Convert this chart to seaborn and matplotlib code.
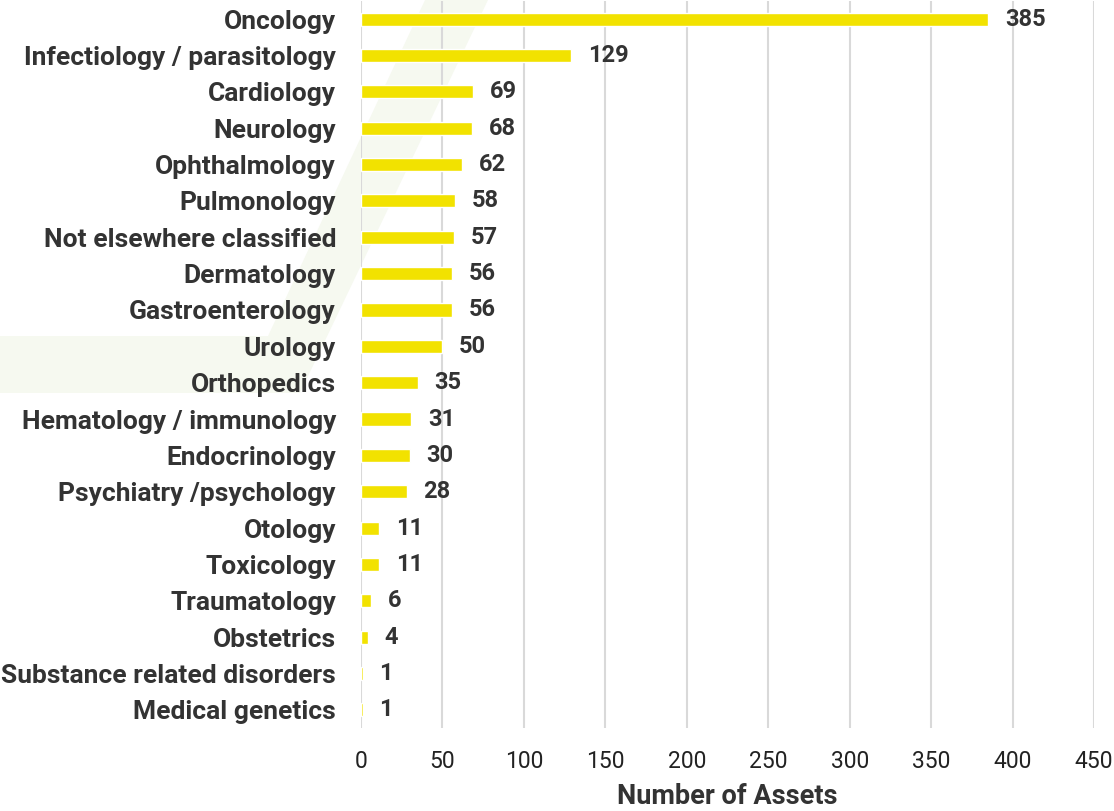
import matplotlib
matplotlib.use("Agg")
import matplotlib.pyplot as plt
import seaborn as sns
import pandas as pd
from matplotlib.patches import Polygon

# dane
categories = ["Oncology", "Infectiology / parasitology", "Cardiology", "Neurology",
              "Ophthalmology", "Pulmonology", "Not elsewhere classified", "Dermatology",
              "Gastroenterology", "Urology", "Orthopedics", "Hematology / immunology",
              "Endocrinology", "Psychiatry /psychology", "Otology", "Toxicology",
              "Traumatology", "Obstetrics", "Substance related disorders", "Medical genetics"]
assets = [385, 129, 69, 68, 62, 58, 57, 56, 56, 50, 35, 31, 30, 28, 11, 11, 6, 4, 1, 1]
x_ticks = [0, 50, 100, 150, 200, 250, 300, 350, 400, 450]

df = pd.DataFrame({"area": categories, "assets": assets})

sns.set_theme(style="white")
plt.rcParams['font.family'] = ['Roboto', 'DejaVu Sans']

W, H = 1114, 811
fig = plt.figure(figsize=(W / 100, H / 100), dpi=100)

# tło - delikatny znak wodny (osobne osie pod wykresem)
bg = fig.add_axes([0, 0, 1, 1], zorder=-1)
bg.set_xlim(0, W)
bg.set_ylim(H, 0)
bg.axis("off")
bg.add_patch(Polygon([(425, 0), (488, 0), (300, 393), (0, 393), (0, 336), (268, 336)],
                     closed=True, facecolor="#f6f9f0", edgecolor="none"))

ax = fig.add_axes([361 / W, 1 - 728 / H, (1094 - 361) / W, (728 - 1) / H], zorder=1)
ax.patch.set_alpha(0)

sns.barplot(data=df, x="assets", y="area", orient="h", color="#f2e200",
            saturation=1, width=0.36, ax=ax, zorder=3)

ax.set_xlim(0, 450)
ax.set_xticks(x_ticks)
ax.xaxis.grid(True, color="#d9d9d9", linewidth=1.5, zorder=0)
ax.yaxis.grid(False)
for s in ax.spines.values():
    s.set_visible(False)
ax.tick_params(axis="both", length=0)
ax.tick_params(axis="y", pad=18)
ax.tick_params(axis="x", pad=16)

for lab in ax.get_yticklabels():
    lab.set_fontsize(19)
    lab.set_fontweight("bold")
    lab.set_color("#333333")
for lab in ax.get_xticklabels():
    lab.set_fontsize(16.5)
    lab.set_color("#222222")

ax.set_ylabel("")
ax.set_xlabel("Number of Assets", fontsize=19.5, fontweight="bold", color="#333333", labelpad=7)

ax.bar_label(ax.containers[0], padding=12, fontsize=17, fontweight="bold", color="#333333")

fig.savefig("out.png", dpi=100)
